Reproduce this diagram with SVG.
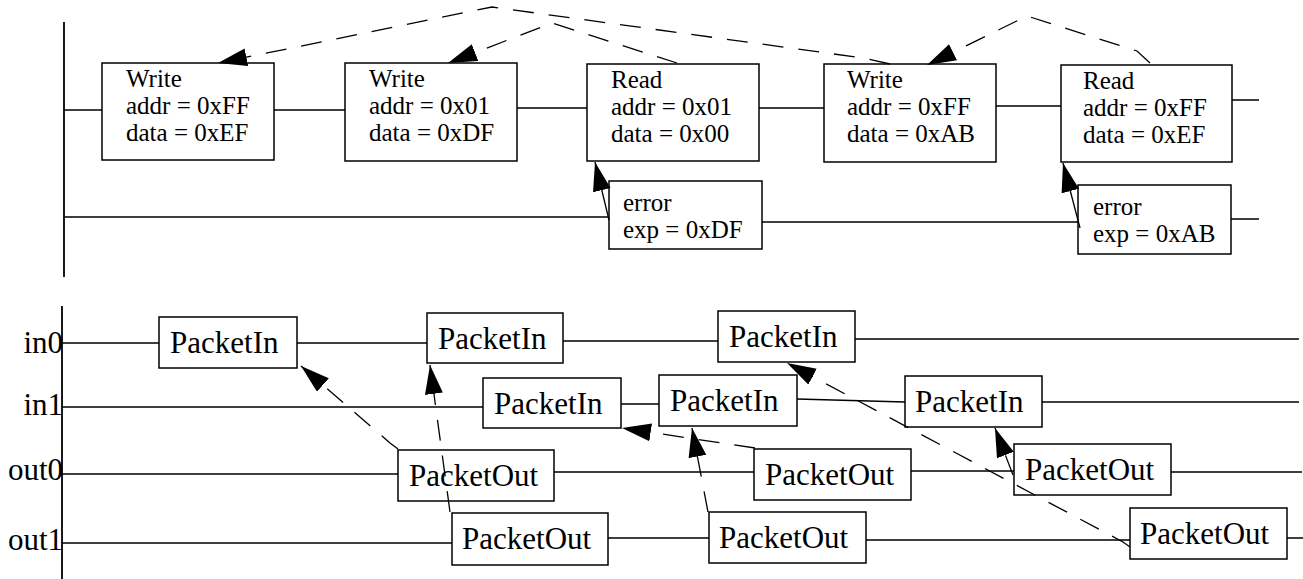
<svg xmlns="http://www.w3.org/2000/svg" width="1303" height="579" viewBox="0 0 1303 579">
<style>
.box{fill:#fff;stroke:#000;stroke-width:1.5}
.t{font-family:"Liberation Serif","Times New Roman",serif;font-size:25px;fill:#000}
.p{font-family:"Liberation Serif","Times New Roman",serif;font-size:31px;fill:#000}
.ln{fill:none;stroke:#000;stroke-width:1.3}
.ax{fill:none;stroke:#000;stroke-width:1.8}
.da{fill:none;stroke:#000;stroke-width:1.3;stroke-dasharray:21 15;marker-end:url(#ah)}
.so{fill:none;stroke:#000;stroke-width:1.3;marker-end:url(#ah)}
</style>
<defs>
<marker id="ah" markerUnits="userSpaceOnUse" markerWidth="32" markerHeight="20" refX="29" refY="9" orient="auto">
<path d="M0,0 L29,9 L0,18 Z" fill="#000"/>
</marker>
</defs>
<g id="axes">
<path class="ax" d="M64,22 V277"/>
<path class="ax" d="M62,306 V579"/>
</g>
<g id="lanes">
<path class="ln" d="M64,110 H102 M274,110 H345 M517,108 H587 M759,108 H824 M996,106 H1061 M1232,100 H1259"/>
<path class="ln" d="M64,217 H609 M762,222 H1078 M1231,219 H1259"/>
<path class="ln" d="M62,343 H159 M297,343 H427 M563,341 H718 M855,339 H1299"/>
<path class="ln" d="M62,407 H483 M621,404 H659 M797,399 L905,402 M1042,402 H1299"/>
<path class="ln" d="M62,474 H398 M554,472 H754 M911,471 H1014 M1171,472 H1302"/>
<path class="ln" d="M62,543 H452 M608,538 H709 M866,540 H1130 M1287,538 H1303"/>
</g>
<g id="labels">
<text class="p" x="63" y="353" text-anchor="end">in0</text>
<text class="p" x="63" y="415" text-anchor="end">in1</text>
<text class="p" x="63" y="480" text-anchor="end">out0</text>
<text class="p" x="63" y="550" text-anchor="end">out1</text>
</g>
<g id="w1"><rect class="box" x="102" y="63" width="172" height="97"/><text class="t" x="126" y="87">Write</text><text class="t" x="126" y="114">addr = 0xFF</text><text class="t" x="126" y="141">data = 0xEF</text></g>
<g id="w2"><rect class="box" x="345" y="63" width="172" height="98"/><text class="t" x="369" y="87">Write</text><text class="t" x="369" y="114">addr = 0x01</text><text class="t" x="369" y="141">data = 0xDF</text></g>
<g id="r3"><rect class="box" x="587" y="64" width="172" height="97"/><text class="t" x="611" y="88">Read</text><text class="t" x="611" y="115">addr = 0x01</text><text class="t" x="611" y="142">data = 0x00</text></g>
<g id="w4"><rect class="box" x="824" y="64" width="172" height="98"/><text class="t" x="847" y="88">Write</text><text class="t" x="847" y="115">addr = 0xFF</text><text class="t" x="847" y="142">data = 0xAB</text></g>
<g id="r5"><rect class="box" x="1061" y="65" width="171" height="97"/><text class="t" x="1083" y="89">Read</text><text class="t" x="1083" y="116">addr = 0xFF</text><text class="t" x="1083" y="143">data = 0xEF</text></g>
<g id="e1"><rect class="box" x="609" y="181" width="153" height="68"/><text class="t" x="623" y="211">error</text><text class="t" x="623" y="238">exp = 0xDF</text></g>
<g id="e2"><rect class="box" x="1078" y="185" width="153" height="69"/><text class="t" x="1093" y="215">error</text><text class="t" x="1093" y="242">exp = 0xAB</text></g>
<g id="in0_1"><rect class="box" x="159" y="317" width="138" height="51"/><text class="p" x="170" y="353">PacketIn</text></g>
<g id="in0_2"><rect class="box" x="427" y="313" width="136" height="50"/><text class="p" x="438" y="349">PacketIn</text></g>
<g id="in0_3"><rect class="box" x="718" y="311" width="137" height="51"/><text class="p" x="729" y="347">PacketIn</text></g>
<g id="in1_1"><rect class="box" x="483" y="378" width="138" height="50"/><text class="p" x="494" y="414">PacketIn</text></g>
<g id="in1_2"><rect class="box" x="659" y="375" width="138" height="51"/><text class="p" x="670" y="411">PacketIn</text></g>
<g id="in1_3"><rect class="box" x="905" y="376" width="137" height="51"/><text class="p" x="915" y="412">PacketIn</text></g>
<g id="out0_1"><rect class="box" x="398" y="450" width="156" height="51"/><text class="p" x="409" y="486">PacketOut</text></g>
<g id="out0_2"><rect class="box" x="754" y="449" width="157" height="51"/><text class="p" x="765" y="485">PacketOut</text></g>
<g id="out0_3"><rect class="box" x="1014" y="444" width="157" height="51"/><text class="p" x="1025" y="480">PacketOut</text></g>
<g id="out1_1"><rect class="box" x="452" y="513" width="156" height="52"/><text class="p" x="462" y="549">PacketOut</text></g>
<g id="out1_2"><rect class="box" x="709" y="512" width="157" height="51"/><text class="p" x="719" y="548">PacketOut</text></g>
<g id="out1_3"><rect class="box" x="1130" y="508" width="157" height="51"/><text class="p" x="1140" y="544">PacketOut</text></g>
<g id="connectors">
<path class="da" d="M890,64 L863,58 L492,7 L218,63"/>
<path class="da" d="M677,63 L552,23 L448,63"/>
<path class="da" d="M1150,63 L1137,51 L1027,16 L927,65"/>
<path class="so" d="M609,220 L595,162"/>
<path class="so" d="M1080,228 L1063,163"/>
<path class="da" d="M398,449 L390,443 L301,366"/>
<path class="da" d="M450,512 L430,365"/>
<path class="da" d="M755,448 L622,428"/>
<path class="da" d="M708,512 L692,428"/>
<path class="da" d="M1130,547 L1123,542 L787,363"/>
<path class="da" d="M1013,475 L995,428"/>
</g>
</svg>
